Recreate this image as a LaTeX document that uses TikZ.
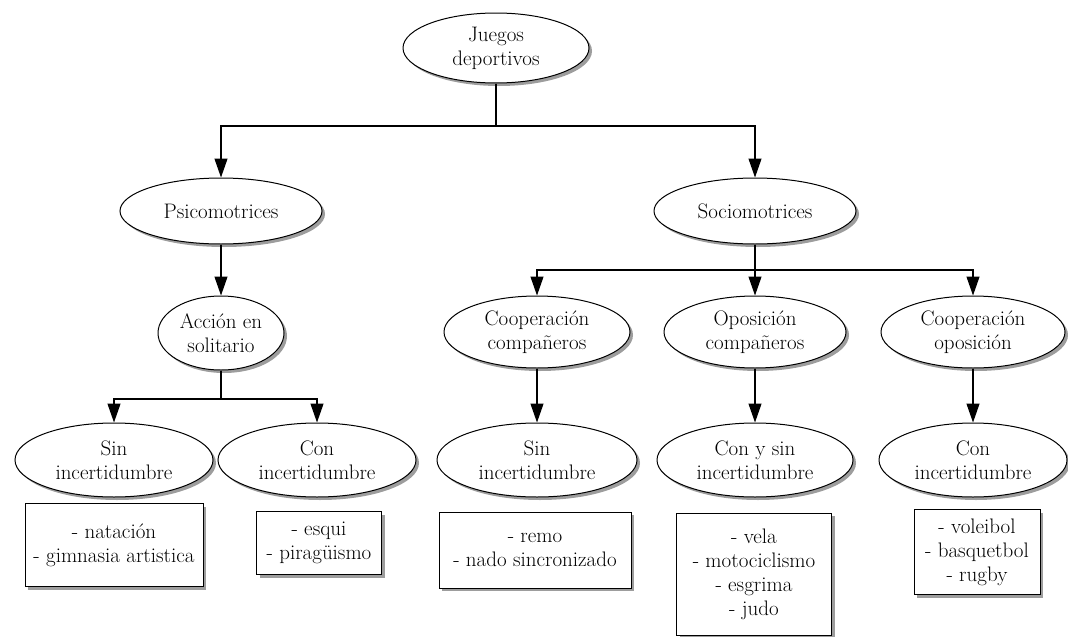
\documentclass[tikz,border=0pt]{standalone}
\usepackage{fontspec}
\usetikzlibrary{shapes.geometric,arrows.meta,shadows}

\tikzset{
	sombra/.style={drop shadow={shadow xshift=3pt, shadow yshift=-3pt, fill=black!55, opacity=0.7}},
	elipse/.style={ellipse, draw=black, fill=white, line width=1pt, inner sep=0pt, align=center, sombra},
	caja/.style={rectangle, draw=black, fill=white, line width=1pt, inner sep=0pt, align=center, sombra},
	linea/.style={line width=1.2pt},
	flecha/.style={line width=1.2pt, -{Triangle[width=13pt,length=19pt]}}
}

\begin{document}
\begin{tikzpicture}[x=1pt, y=-1pt, font=\fontsize{21}{24}\selectfont]
	\useasboundingbox (0,0) rectangle (1068,637);

	\node[elipse, minimum width=186pt, minimum height=70pt] (juegos) at (496,48) {Juegos\\deportivos};

	\node[elipse, minimum width=202pt, minimum height=66pt] (psico) at (221,211) {Psicomotrices};
	\node[elipse, minimum width=202pt, minimum height=66pt] (socio) at (755,211) {Sociomotrices};

	\node[elipse, minimum width=126pt, minimum height=74pt] (accion) at (221,333) {Acción en\\solitario};
	\node[elipse, minimum width=186pt, minimum height=72pt] (coopcomp) at (537,332) {Cooperación\\compañeros};
	\node[elipse, minimum width=182pt, minimum height=72pt] (opocomp) at (755,332) {Oposición\\compañeros};
	\node[elipse, minimum width=184pt, minimum height=72pt] (coopopo) at (973,332) {Cooperación\\oposición};

	\node[elipse, minimum width=198pt, minimum height=74pt] (sinA) at (114,460) {Sin\\incertidumbre};
	\node[elipse, minimum width=198pt, minimum height=74pt] (conA) at (317,460) {Con\\incertidumbre};
	\node[elipse, minimum width=200pt, minimum height=74pt] (sinB) at (537,460) {Sin\\incertidumbre};
	\node[elipse, minimum width=196pt, minimum height=74pt] (consin) at (755,460) {Con y sin\\incertidumbre};
	\node[elipse, minimum width=188pt, minimum height=74pt] (conB) at (973,460) {Con\\incertidumbre};

	% listas de deportes
	\node[caja, minimum width=178pt, minimum height=83pt] (natacion) at (114,545) {- natación\\- gimnasia artistica};
	\node[caja, minimum width=125pt, minimum height=63pt] (esqui) at (319,543) {- esqui\\- piragüismo};
	\node[caja, minimum width=192pt, minimum height=76pt] (remo) at (535,550) {- remo\\- nado sincronizado};
	\node[caja, minimum width=155pt, minimum height=122pt] (vela) at (754,574) {- vela\\- motociclismo\\- esgrima\\- judo};
	\node[caja, minimum width=126pt, minimum height=85pt] (voleibol) at (977,552) {- voleibol\\- basquetbol\\- rugby};

	\coordinate (j0) at (496,126);
	\coordinate (j1) at (755,270);
	\coordinate (j2) at (221,399);

	\draw[linea] (juegos) -- (j0);
	\draw[flecha] (j0) -| (psico);
	\draw[flecha] (j0) -| (socio);
	\draw[flecha] (psico) -- (accion);
	\draw[linea] (accion) -- (j2);
	\draw[flecha] (j2) -| (sinA);
	\draw[flecha] (j2) -| (conA);
	\draw[linea] (socio) -- (j1);
	\draw[flecha] (j1) -| (coopcomp);
	\draw[flecha] (j1) -- (opocomp);
	\draw[flecha] (j1) -| (coopopo);
	\draw[flecha] (coopcomp) -- (sinB);
	\draw[flecha] (opocomp) -- (consin);
	\draw[flecha] (coopopo) -- (conB);
\end{tikzpicture}
\end{document}
